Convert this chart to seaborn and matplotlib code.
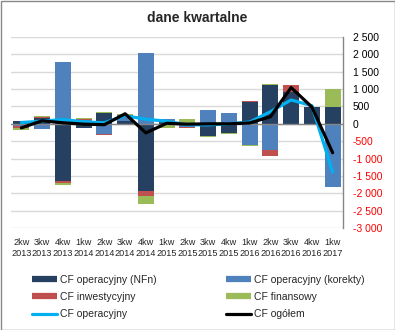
import matplotlib
matplotlib.use("Agg")
import matplotlib.pyplot as plt
import seaborn as sns
import numpy as np
from matplotlib.lines import Line2D
from matplotlib.patches import Rectangle

# ---- data ----
quarters = ["2kw\n2013", "3kw\n2013", "4kw\n2013", "1kw\n2014", "2kw\n2014", "3kw\n2014",
            "4kw\n2014", "1kw\n2015", "2kw\n2015", "3kw\n2015", "4kw\n2015", "1kw\n2016",
            "2kw\n2016", "3kw\n2016", "4kw\n2016", "1kw\n2017"]
cf_nfn = [70, 175, -1645, -130, 305, 70, -1935, 80, -30, -360, -275, 625, 1110, 925, 490, 475]
cf_korekty = [-60, -135, 1780, 110, -285, 180, 2040, 50, -55, 385, 305, -600, -765, -45, 0, -1810]
cf_inwest = [-50, 20, -55, 20, -25, 0, -135, 20, -30, 0, 0, 20, -175, 180, 0, 0]
cf_finans = [-80, 20, -50, 25, 25, 40, -230, -120, 125, -30, -30, -30, 30, 0, 0, 540]
cf_operacyjny = [38, 75, 125, 58, 30, 232, 133, 75, -30, -30, 0, 50, 348, 687, 522, -1392]
cf_ogolem = [-116, 87, 29, -10, -25, 290, -261, 15, -10, 0, 0, 25, 203, 1044, 483, -832]

bar_names = ["CF operacyjny (NFn)", "CF operacyjny (korekty)", "CF inwestycyjny", "CF finansowy"]
bar_colors = ["#254061", "#4F81BD", "#C0504D", "#9BBB59"]
line_colors = {"CF operacyjny": "#00B0F0", "CF ogółem": "#000000"}

sns.set_theme(style="white")
plt.rcParams['font.family'] = ['Liberation Sans', 'DejaVu Sans']

W, H = 395, 330
fig = plt.figure(figsize=(W / 100, H / 100), dpi=100)
ax = fig.add_axes([11 / W, 1 - 228 / H, (343 - 11) / W, (228 - 37) / H])

vals = np.array([cf_nfn, cf_korekty, cf_inwest, cf_finans], dtype=float)
pos = np.clip(vals, 0, None).cumsum(axis=0)
neg = np.clip(vals, None, 0).cumsum(axis=0)
for k in reversed(range(4)):
    for stack in (pos, neg):
        sns.barplot(x=quarters, y=stack[k], color=bar_colors[k], width=0.77, ax=ax,
                    saturation=1, edgecolor="none", linewidth=0, errorbar=None, zorder=2)

xpos = np.arange(len(quarters))
sns.lineplot(x=xpos, y=cf_operacyjny, color=line_colors["CF operacyjny"], lw=2.3, ax=ax, zorder=4)
sns.lineplot(x=xpos, y=cf_ogolem, color=line_colors["CF ogółem"], lw=2.3, ax=ax, zorder=5)

ax.set_xlim(-0.5, len(quarters) - 0.5)
ax.set_ylim(-3000, 2500)
ax.axhline(0, color="#868686", lw=1, zorder=3)

yt = np.arange(-3000, 2501, 500)
ax.set_yticks(yt)
ax.set_yticklabels([f"{int(v):,}".replace(",", " ") for v in yt])
ax.yaxis.tick_right()
for lbl, v in zip(ax.get_yticklabels(), yt):
    lbl.set_color("#FF0000" if v < 0 else "#000000")
    lbl.set_fontsize(7.5)
ax.tick_params(axis="y", length=0, pad=7)
ax.yaxis.grid(True, color="#D9D9D9", lw=1)
ax.set_axisbelow(True)

ax.set_xticks(xpos)
ax.set_xticklabels(quarters, fontsize=6.6, linespacing=1.3)
ax.tick_params(axis="x", length=0, pad=7)
ax.set_xlabel("")
ax.set_ylabel("")

for s in ["left", "top", "bottom"]:
    ax.spines[s].set_visible(False)
ax.spines["right"].set_color("#868686")
ax.spines["right"].set_linewidth(1)

fig.text(0.5, 1 - 18 / H, "dane kwartalne", ha="center", va="center",
         fontweight="bold", fontsize=10)

handles = [Line2D([], [], color=c, lw=4.5, solid_capstyle="butt") for c in bar_colors]
handles += [Line2D([], [], color=line_colors[n], lw=2.3) for n in line_colors]
labels = bar_names + list(line_colors.keys())
order = [0, 2, 4, 1, 3, 5]
fig.legend([handles[i] for i in order], [labels[i] for i in order], ncol=2,
           loc="upper left", bbox_to_anchor=(32 / W, 1 - 275 / H), frameon=False,
           fontsize=7.5, handlelength=2.4, handletextpad=0.3, columnspacing=6.6,
           labelspacing=0.68, borderpad=0, borderaxespad=0)

fig.add_artist(Rectangle((0.5 / W, 0.5 / H), 1 - 1 / W, 1 - 1 / H, transform=fig.transFigure,
                         fill=False, edgecolor="#888888", lw=1))

fig.savefig("out.png", dpi=100)
